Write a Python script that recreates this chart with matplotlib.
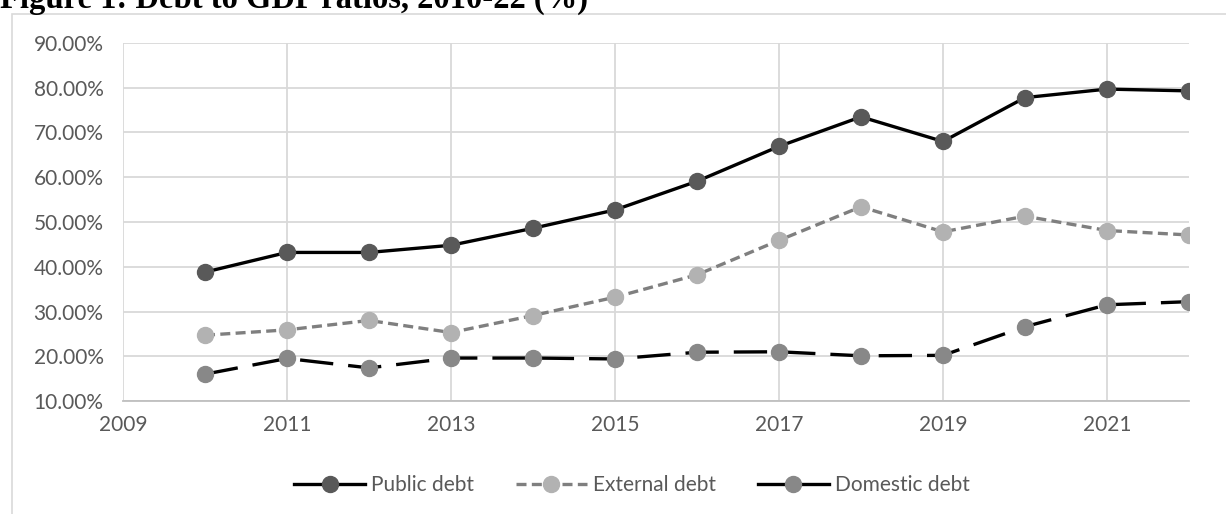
import matplotlib
matplotlib.use("Agg")
import matplotlib.pyplot as plt
from matplotlib.patches import Rectangle
from matplotlib.ticker import FuncFormatter, MultipleLocator

# data (% of GDP)
years = [2010, 2011, 2012, 2013, 2014, 2015, 2016, 2017, 2018, 2019, 2020, 2021, 2022]
public_debt = [38.8, 43.2, 43.2, 44.8, 48.6, 52.7, 59.1, 66.9, 73.5, 68.0, 77.8, 79.7, 79.3]
external_debt = [24.7, 25.9, 28.0, 25.3, 29.1, 33.2, 38.2, 45.9, 53.4, 47.8, 51.3, 48.1, 47.1]
domestic_debt = [16.0, 19.5, 17.4, 19.6, 19.6, 19.4, 20.9, 21.0, 20.1, 20.2, 26.6, 31.5, 32.2]
xticks = [2009, 2011, 2013, 2015, 2017, 2019, 2021]

plt.rcParams['font.family'] = ['Lato', 'DejaVu Sans']

W, H = 1226, 514
fig = plt.figure(figsize=(W / 100, H / 100), dpi=100)

# title, cut off at the top in the original screenshot
fig.text(0, 1 - 8 / H, "Figure 1: Debt to GDP ratios, 2010-22 (%)", fontsize=23.5,
         fontweight="bold", family="Liberation Serif", ha="left", va="baseline")

# outer chart border
fig.patches.append(Rectangle((11.5 / W, -0.1), 1.2, 1 - 13.5 / H + 0.1,
                             transform=fig.transFigure, fill=False,
                             edgecolor="#d9d9d9", linewidth=1.2))

ax = fig.add_axes([123 / W, 1 - 401 / H, (1189 - 123) / W, (401 - 43) / H])

ax.plot(years, public_debt, color="black", linewidth=2.4, marker="o",
        markersize=11.5, markerfacecolor="#595959", markeredgecolor="#595959",
        label="Public debt", zorder=3)
ax.plot(years, external_debt, color="#7f7f7f", linewidth=2.4, linestyle=(0, (3, 1.6)),
        marker="o", markersize=11.5, markerfacecolor="#b2b2b2",
        markeredgecolor="#b2b2b2", label="External debt", zorder=3)
ax.plot(years, domestic_debt, color="black", linewidth=2.4, linestyle=(0, (10, 4.5)),
        marker="o", markersize=11.5, markerfacecolor="#888888",
        markeredgecolor="#888888", label="Domestic debt", zorder=3)

ax.set_xlim(2009, 2022)
ax.set_ylim(10, 90)
ax.set_xticks(xticks)
ax.yaxis.set_major_locator(MultipleLocator(10))
ax.yaxis.set_major_formatter(FuncFormatter(lambda v, p: "%.2f%%" % v))

ax.grid(True, color="#d9d9d9", linewidth=1.3)
ax.set_axisbelow(True)
for s in ["top", "right", "left"]:
    ax.spines[s].set_visible(False)
ax.spines["bottom"].set_color("#bfbfbf")
ax.spines["bottom"].set_linewidth(1.3)

ax.tick_params(axis="both", length=0, labelsize=15, labelcolor="#595959")
ax.tick_params(axis="y", pad=14)
ax.tick_params(axis="x", pad=10)

leg = fig.legend(loc="center", bbox_to_anchor=(632 / W, 1 - 485 / H), ncol=3,
                 frameon=False, fontsize=15, handlelength=3.4, handletextpad=0.3,
                 columnspacing=2.0)
for t in leg.get_texts():
    t.set_color("#595959")
# the long dash looks solid in the short legend sample
leg.get_lines()[2].set_linestyle("-")

fig.savefig("out.png", dpi=100)
